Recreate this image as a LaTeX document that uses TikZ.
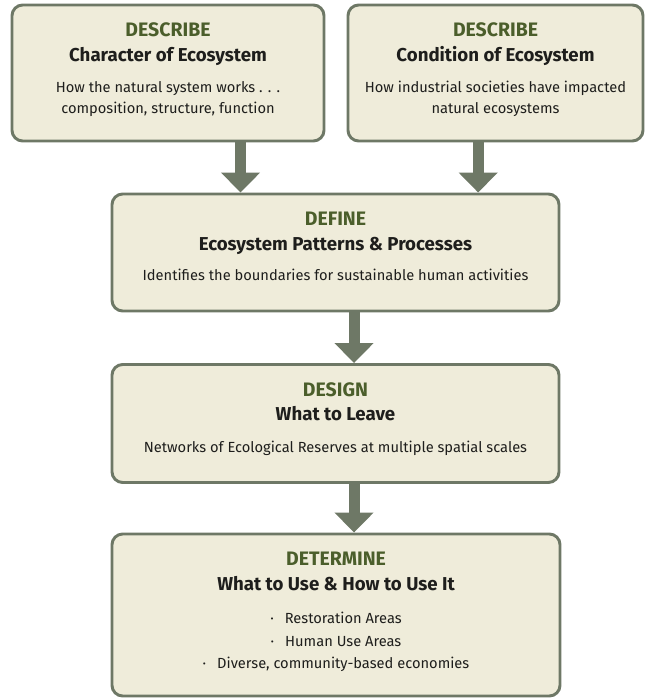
\documentclass[tikz,border=0pt]{standalone}
\usepackage{fontspec}
\setmainfont{Fira Sans}
\usetikzlibrary{arrows.meta,calc}
\definecolor{edge}{HTML}{6E7866}
\definecolor{cream}{HTML}{EFECDA}
\definecolor{olive}{HTML}{4B5E2B}
\definecolor{ink}{HTML}{1E1E1C}
\tikzset{panel/.style={draw=edge, fill=cream, line width=2.2pt, rounded corners=8pt, inner sep=0pt},
         head/.style={anchor=base, text=olive, font=\fontsize{14.6}{16}\selectfont\bfseries},
         title/.style={anchor=base, text=ink, font=\fontsize{14}{16}\selectfont\bfseries},
         body/.style={anchor=base, text=ink, font=\fontsize{11}{13}\selectfont},
         flow/.style={draw=edge, line width=8.2pt, -{Triangle[width=28.5pt,length=15pt]}}}
\begin{document}
\begin{tikzpicture}[x=0.75pt,y=-0.75pt]
     \useasboundingbox (0,0) rectangle (647,698);
     % boxes
     \node[panel, minimum width=234pt, minimum height=102pt] (charbox) at (168,73) {};
     \node[panel, minimum width=221.25pt, minimum height=102pt] (condbox) at (495.5,73) {};
     \node[panel, minimum width=335.25pt, minimum height=87.75pt] (definebox) at (335.5,252.5) {};
     \node[panel, minimum width=335.25pt, minimum height=88.5pt] (designbox) at (335.5,423.5) {};
     \node[panel, minimum width=336pt, minimum height=121.5pt] (determbox) at (336,615) {};
     % texts
     \node[head]  (charhead)  at ($(charbox.north)+(0,33)$) {DESCRIBE};
     \node[title] (chartitle) at ($(charbox.north)+(0,58)$) {Character of Ecosystem};
     \node[body]  (charbodya) at ($(charbox.north)+(0,89)$) {How the natural system works . . .};
     \node[body]  (charbodyb) at ($(charbox.north)+(0,110)$) {composition, structure, function};
     \node[head]  (condhead)  at ($(condbox.north)+(0,33)$) {DESCRIBE};
     \node[title] (condtitle) at ($(condbox.north)+(0,58)$) {Condition of Ecosystem};
     \node[body]  (condbodya) at ($(condbox.north)+(0,89)$) {How industrial societies have impacted};
     \node[body]  (condbodyb) at ($(condbox.north)+(0,110)$) {natural ecosystems};
     \node[head]  (definehead)  at ($(definebox.north)+(0,33)$) {DEFINE};
     \node[title] (definetitle) at ($(definebox.north)+(0,58)$) {Ecosystem Patterns \& Processes};
     \node[body]  (definebody)  at ($(definebox.north)+(0,88)$) {Identifies the boundaries for sustainable human activities};
     \node[head]  (designhead)  at ($(designbox.north)+(0,33)$) {DESIGN};
     \node[title] (designtitle) at ($(designbox.north)+(0,57)$) {What to Leave};
     \node[body]  (designbody)  at ($(designbox.north)+(0,89)$) {Networks of Ecological Reserves at multiple spatial scales};
     \node[head]  (determhead)  at ($(determbox.north)+(0,33)$) {DETERMINE};
     \node[title] (determtitle) at ($(determbox.north)+(0,58)$) {What to Use \& How to Use It};
     \node[body]  (determa) at ($(determbox.north)+(0,91)$) {·\hspace{0.75em}Restoration Areas};
     \node[body]  (determb) at ($(determbox.north)+(0,114)$) {·\hspace{0.75em}Human Use Areas};
     \node[body]  (determc) at ($(determbox.north)+(0,136)$) {·\hspace{0.75em}Diverse, community-based economies};
     % arrows
     \draw[flow] ([xshift=54.4pt]charbox.south) -- ([xshift=54.4pt]charbox.south |- definebox.north);
     \draw[flow] ([xshift=-13pt]condbox.south) -- ([xshift=-13pt]condbox.south |- definebox.north);
     \draw[flow] ([xshift=13.9pt]definebox.south) -- ([xshift=13.9pt]definebox.south |- designbox.north);
     \draw[flow] ([xshift=13.9pt]designbox.south) -- ([xshift=13.9pt]designbox.south |- determbox.north);
\end{tikzpicture}
\end{document}
